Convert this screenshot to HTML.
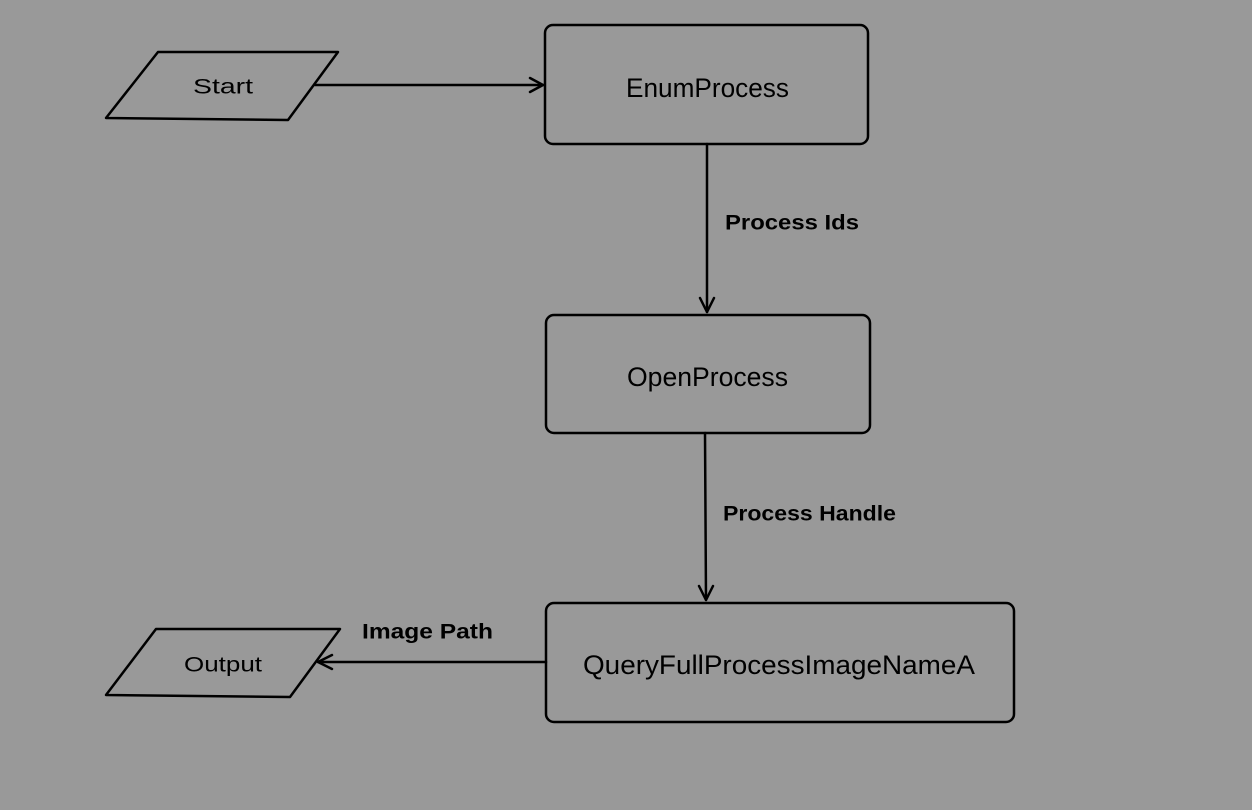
<!DOCTYPE html>
<html><head><meta charset="utf-8"><style>
html,body{margin:0;padding:0;background:#999999;}
svg{display:block;}
text{font-family:"Liberation Sans",sans-serif;fill:#000;}
</style></head><body>
<svg width="1252" height="810" viewBox="0 0 1252 810" xmlns="http://www.w3.org/2000/svg">
<rect width="1252" height="810" fill="#999999"/>
<g fill="none" stroke="#000" stroke-width="2.5" stroke-linejoin="round" stroke-linecap="round">
<polygon points="106,118 158,52 338,52 288,120"/>
<polygon points="106,695 156,629 340,629 290,697"/>
<rect x="545" y="25" width="323" height="119" rx="8"/>
<rect x="546" y="315" width="324" height="118" rx="8"/>
<rect x="546" y="603" width="468" height="119" rx="8"/>
<line x1="315" y1="85" x2="543" y2="85"/>
<polyline points="530,78 543,85 530,92"/>
<line x1="707" y1="144" x2="707" y2="312"/>
<polyline points="700,298 707,312 714,298"/>
<line x1="705" y1="433" x2="706" y2="600"/>
<polyline points="699,586 706,600 713,586"/>
<line x1="546" y1="662" x2="318" y2="662"/>
<polyline points="332,655 318,662 332,669"/>
</g>
<g dominant-baseline="central">
<text x="193" y="87" font-size="21" textLength="60" lengthAdjust="spacingAndGlyphs">Start</text>
<text x="184" y="665" font-size="21" textLength="78" lengthAdjust="spacingAndGlyphs">Output</text>
<text x="626" y="88" font-size="27" textLength="163" lengthAdjust="spacingAndGlyphs">EnumProcess</text>
<text x="627" y="377" font-size="27" textLength="161" lengthAdjust="spacingAndGlyphs">OpenProcess</text>
<text x="583" y="665" font-size="27" textLength="392" lengthAdjust="spacingAndGlyphs">QueryFullProcessImageNameA</text>
</g>
<g font-weight="bold" font-size="21" dominant-baseline="central">
<text x="725" y="223" textLength="134" lengthAdjust="spacingAndGlyphs">Process Ids</text>
<text x="723" y="514" textLength="173" lengthAdjust="spacingAndGlyphs">Process Handle</text>
<text x="362" y="632" textLength="131" lengthAdjust="spacingAndGlyphs">Image Path</text>
</g>
</svg>
</body></html>
